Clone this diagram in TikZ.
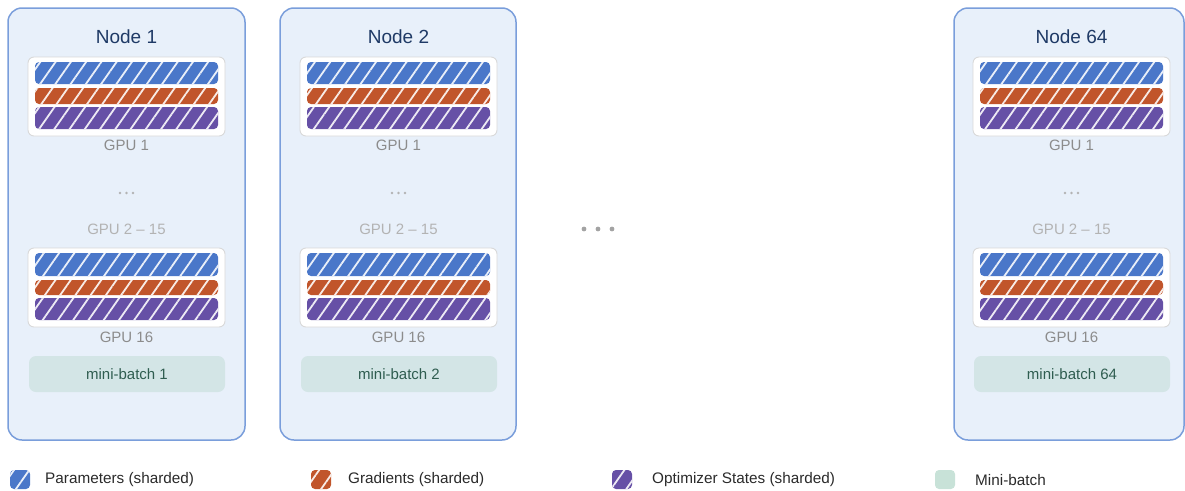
\documentclass[tikz,border=0pt]{standalone}
\usepackage{fontspec}
\setmainfont{Liberation Sans}
\usetikzlibrary{patterns.meta,fit}
\definecolor{nodefill}{HTML}{E8F0FA}
\definecolor{nodeborder}{HTML}{7A9EDB}
\definecolor{gpuborder}{HTML}{D9D9D9}
\definecolor{pblue}{HTML}{4A77C9}
\definecolor{porange}{HTML}{C1552B}
\definecolor{ppurple}{HTML}{6650A6}
\definecolor{titlecol}{HTML}{1F3A66}
\definecolor{gpulab}{HTML}{8C8C8C}
\definecolor{gpulablight}{HTML}{B3B3B3}
\definecolor{mbfill}{HTML}{D3E5E6}
\definecolor{mbtext}{HTML}{2F5D50}
\definecolor{mbicon}{HTML}{C8E2D8}
\definecolor{legtext}{HTML}{2A2A2A}
\tikzset{
  nodebox/.style={draw=nodeborder, line width=1.5pt, fill=nodefill, rounded corners=14pt, inner sep=0pt},
  gpubox/.style={draw=gpuborder, line width=0.9pt, fill=white, rounded corners=6pt, inner sep=0pt},
  hatched/.style={preaction={fill=#1}, pattern={Lines[angle=55,distance=12.5pt,line width=1.8pt]}, pattern color=white!88!#1, rounded corners=4pt, inner sep=0pt},
  mbbox/.style={fill=mbfill, rounded corners=7pt, inner sep=0pt},
  titletxt/.style={font=\fontsize{19}{21}\selectfont, text=titlecol},
  gputxt/.style={font=\fontsize{15}{17}\selectfont, text=gpulab},
  gputxtl/.style={font=\fontsize{15}{17}\selectfont, text=gpulablight},
  mbtxt/.style={font=\fontsize{15}{17}\selectfont, text=mbtext},
  legtxt/.style={font=\fontsize{15.3}{17}\selectfont, text=legtext, anchor=west, inner sep=0pt},
}
\begin{document}
\begin{tikzpicture}[x=1pt,y=-1pt]
\useasboundingbox (0,0) rectangle (1185,490);
\foreach \n/\ox/\bl/\br/\lab in {a/0/8/245/1, b/272/280/516/2, c/945/954/1184/64}{
  \node[nodebox, fit={(\bl,8) (\br,440)}] (\n-box) {};
  \node[titletxt] (\n-title) at (126.5+\ox,37) {Node \lab};
  % GPU 1
  \node[gpubox, fit={(28+\ox,57) (225+\ox,136)}] (\n-g1) {};
  \node[hatched=pblue, fit={(35+\ox,62) (218+\ox,84)}] (\n-g1p) {};
  \node[hatched=porange, fit={(35+\ox,88) (218+\ox,104)}] (\n-g1g) {};
  \node[hatched=ppurple, fit={(35+\ox,107) (218+\ox,129)}] (\n-g1o) {};
  \node[gputxt] (\n-g1l) at (126.5+\ox,145) {GPU 1};
  \fill[gpulablight] (120+\ox,193) circle (1.3) (126.5+\ox,193) circle (1.3) (133+\ox,193) circle (1.3);
  \node[gputxtl] (\n-gm) at (126.5+\ox,229) {GPU 2 -- 15};
  % GPU 16
  \node[gpubox, fit={(28+\ox,248) (225+\ox,327)}] (\n-g16) {};
  \node[hatched=pblue, fit={(35+\ox,253) (218+\ox,276)}] (\n-g16p) {};
  \node[hatched=porange, fit={(35+\ox,280) (218+\ox,295)}] (\n-g16g) {};
  \node[hatched=ppurple, fit={(35+\ox,298) (218+\ox,320)}] (\n-g16o) {};
  \node[gputxt] (\n-g16l) at (126.5+\ox,337) {GPU 16};
  \node[mbbox, fit={(29+\ox,356) (225+\ox,392)}] (\n-mb) {};
  \node[mbtxt] (\n-mbl) at (\n-mb.center) {mini-batch \lab};
}
\fill[gpulab!80] (584,229) circle (2.4) (598,229) circle (2.4) (612,229) circle (2.4);
% legend
\node[hatched=pblue, fit={(10,470) (30,489)}] (lp) {};
\node[legtxt] (lpt) at (45,480) {Parameters (sharded)};
\node[hatched=porange, fit={(311,470) (331,489)}] (lg) {};
\node[legtxt] (lgt) at (348,480) {Gradients (sharded)};
\node[hatched=ppurple, fit={(612,470) (632,489)}] (lo) {};
\node[legtxt] (lot) at (652,480) {Optimizer States (sharded)};
\node[fill=mbicon, rounded corners=4pt, inner sep=0pt, fit={(935,470) (955,489)}] (lm) {};
\node[legtxt] (lmt) at (975,480) {Mini-batch};
\end{tikzpicture}
\end{document}
